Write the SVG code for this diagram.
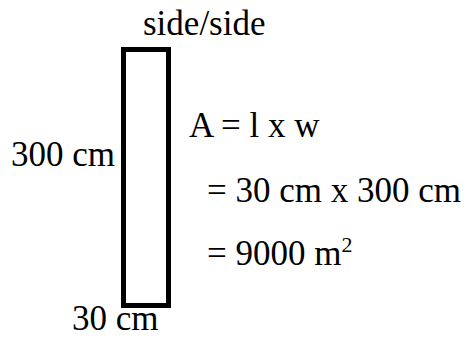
<svg xmlns="http://www.w3.org/2000/svg" width="474" height="338" viewBox="0 0 474 338">
<style>
.t{font-family:"Liberation Serif","Times New Roman",serif;font-size:35px;fill:#000}
.sup{font-size:22px}
</style>
<rect width="474" height="338" fill="#fff"/>
<g id="shape">
<rect x="123.5" y="49.5" width="45" height="256" fill="none" stroke="#000" stroke-width="5"/>
</g>
<g id="labels">
<text class="t" x="143" y="35">side/side</text>
<text class="t" x="11" y="166">300 cm</text>
<text class="t" x="72" y="330">30 cm</text>
</g>
<g id="formula">
<text class="t" x="189" y="137">A = l x w</text>
<text class="t" x="207" y="202">= 30 cm x 300 cm</text>
<text class="t" x="207" y="265">= 9000 m<tspan class="sup" dy="-13">2</tspan></text>
</g>
</svg>
